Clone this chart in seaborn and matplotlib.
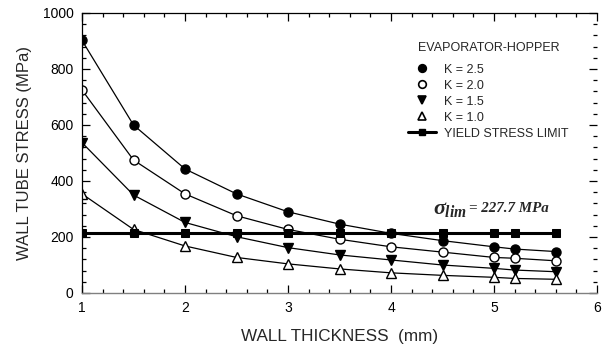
import numpy as np
import pandas as pd
import matplotlib
matplotlib.use("Agg")
import matplotlib.pyplot as plt
import seaborn as sns
from matplotlib.ticker import MultipleLocator
from matplotlib.lines import Line2D

sns.set_style("ticks")
plt.rcParams['font.family'] = ['Liberation Sans', 'DejaVu Sans']
plt.rcParams['mathtext.fontset'] = 'custom'
plt.rcParams['mathtext.it'] = 'Liberation Serif:italic:bold'
plt.rcParams['mathtext.rm'] = 'Liberation Serif:bold'

thickness = [1.0, 1.5, 2.0, 2.5, 3.0, 3.5, 4.0, 4.5, 5.0, 5.2, 5.6]
k25 = [902, 600, 443, 354, 290, 246, 213, 187, 165, 157, 148]
k20 = [725, 475, 354, 276, 227, 192, 165, 146, 127, 124, 115]
k15 = [537, 350, 252, 201, 162, 136, 118, 100, 88, 82, 76]
k10 = [354, 227, 168, 127, 104, 86, 72, 63, 56, 52, 49]
yield_limit = [213] * len(thickness)

labels = ["K = 2.5", "K = 2.0", "K = 1.5", "K = 1.0", "YIELD STRESS LIMIT"]
legend_title = "EVAPORATOR-HOPPER"
x_label = "WALL THICKNESS  (mm)"
y_label = "WALL TUBE STRESS (MPa)"
x_ticks = [1, 2, 3, 4, 5, 6]
y_ticks = [0, 200, 400, 600, 800, 1000]

W, H = 604, 349
fig = plt.figure(figsize=(W / 100, H / 100), dpi=100)
ax = fig.add_axes([82 / W, 1 - 293 / H, (597 - 82) / W, (293 - 13) / H])

ms = 6.5
series = [
    (k25, "o", "black"),
    (k20, "o", "white"),
    (k15, "v", "black"),
    (k10, "^", "white"),
]
handles = []
for (vals, mk, fc), lab in zip(series, labels[:4]):
    sns.lineplot(x=thickness, y=vals, ax=ax, marker=mk, markerfacecolor=fc,
                 color="black", linewidth=0.9, markeredgecolor="black",
                 markeredgewidth=1.0, markersize=ms)
    handles.append(Line2D([], [], linestyle="none", marker=mk,
                          markerfacecolor=fc, markeredgecolor="black",
                          markeredgewidth=1.2, markersize=5.5, label=lab))
sns.lineplot(x=thickness, y=yield_limit, ax=ax, marker="s", color="black",
             linewidth=2.2, markersize=5.5, markerfacecolor="black",
             markeredgecolor="black")
handles.append(Line2D([], [], color="black", linewidth=2.2, marker="s",
                      markersize=5, markerfacecolor="black",
                      markeredgecolor="black", label=labels[4]))

ax.set_xlim(1, 6)
ax.set_ylim(0, 1000)
ax.set_xticks(x_ticks)
ax.set_yticks(y_ticks)
ax.xaxis.set_minor_locator(MultipleLocator(0.2))
ax.yaxis.set_minor_locator(MultipleLocator(40))
ax.tick_params(which="both", direction="in", top=True, right=True,
               labelsize=10, colors="black", pad=6)
ax.tick_params(which="major", length=5.5, width=0.9)
ax.tick_params(which="minor", length=3.2, width=0.9)
for s in ["left", "top"]:
    ax.spines[s].set_color("black")
    ax.spines[s].set_linewidth(0.9)
ax.spines["bottom"].set_color("#808080")
ax.spines["bottom"].set_linewidth(1.0)
ax.spines["right"].set_visible(False)

ax.set_xlabel(x_label, fontsize=12.3, labelpad=10)
ax.set_ylabel(y_label, fontsize=12, labelpad=8)

leg = ax.legend(handles=handles, title=legend_title, loc="upper left",
                bbox_to_anchor=(408 / W, 1 - 42 / H),
                bbox_transform=fig.transFigure, frameon=False,
                fontsize=9, title_fontsize=9, handlelength=2.2,
                handletextpad=0.7, labelspacing=0.32, borderpad=0,
                borderaxespad=0)
leg._legend_box.sep = 7

ax.text(4.41, 302, r"$\sigma_{lim}$", fontsize=16, ha="left", va="center")
ax.text(4.76, 289, "= 227.7 MPa", fontsize=10.8, ha="left", va="baseline",
        family="Liberation Serif", fontweight="bold", fontstyle="italic")

fig.savefig("out.png", dpi=100)
